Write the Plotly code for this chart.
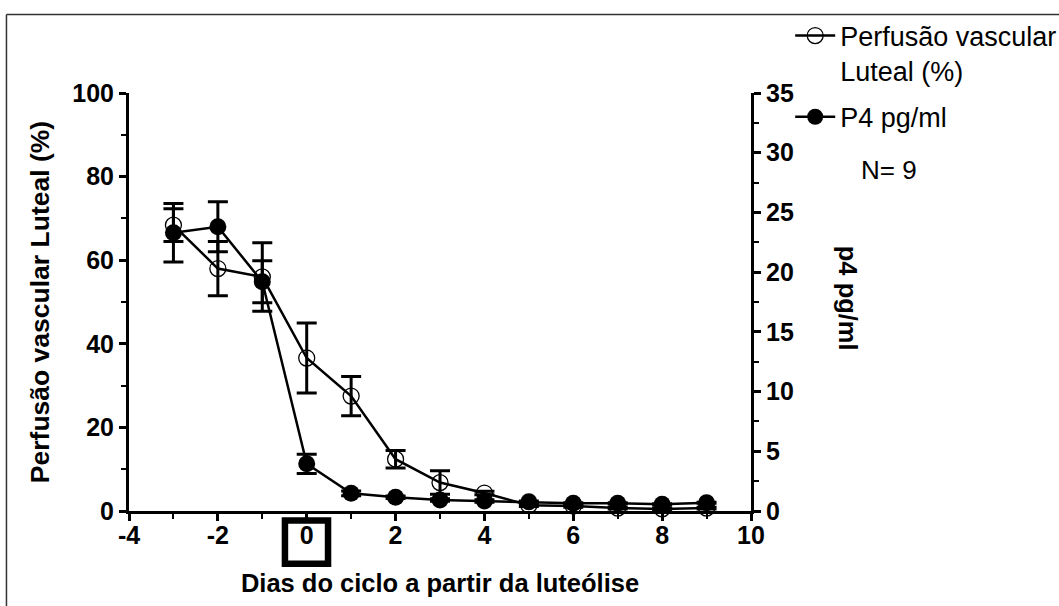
import plotly.graph_objects as go

# ---- data ----
days = [-3, -2, -1, 0, 1, 2, 3, 4, 5, 6, 7, 8, 9]
perfusao = [68.4, 58.0, 56.0, 36.6, 27.5, 12.4, 6.8, 4.3, 1.4, 1.2, 0.7, 0.5, 0.7]
perfusao_err = [3.9, 6.5, 8.2, 8.4, 4.7, 2.1, 2.8, 0.4, 0.3, 0.3, 0.2, 0.2, 0.2]
p4 = [23.3, 23.8, 19.2, 3.95, 1.48, 1.15, 0.92, 0.84, 0.78, 0.64, 0.64, 0.56, 0.69]
p4_err = [2.45, 2.1, 1.76, 0.8, 0.2, 0.1, 0.1, 0.1, 0.05, 0.05, 0.05, 0.05, 0.05]

x_tick_vals = [-4, -2, 0, 2, 4, 6, 8, 10]
x_tick_labels = ["-4", "-2", "0", "2", "4", "6", "8", "10"]
y_tick_vals = [0, 20, 40, 60, 80, 100]
y2_tick_vals = [0, 5, 10, 15, 20, 25, 30, 35]

FONT = "Arial, Liberation Sans, Helvetica, sans-serif"

fig = go.Figure()
fig.add_trace(go.Scatter(
    x=days, y=perfusao, name="Perfusão vascular<br>Luteal (%)",
    mode="lines+markers", yaxis="y", cliponaxis=False, legendgroup="a",
    line=dict(color="black", width=2.5),
    marker=dict(symbol="circle-open", size=16, color="black", line=dict(width=1.3)),
    error_y=dict(type="data", array=perfusao_err, visible=True,
                 color="black", thickness=3, width=10),
))
fig.add_trace(go.Scatter(
    x=days, y=p4, name="P4 pg/ml",
    mode="lines+markers", yaxis="y2", cliponaxis=False, legendgroup="b",
    line=dict(color="black", width=2.5),
    marker=dict(symbol="circle", size=17, color="black"),
    error_y=dict(type="data", array=p4_err, visible=True,
                 color="black", thickness=3, width=10),
))

axis_common = dict(
    showline=True, linewidth=3, linecolor="black",
    ticks="outside", ticklen=7, tickwidth=3, tickcolor="black",
    showgrid=False, zeroline=False, automargin=False,
    tickfont=dict(family=FONT, size=25, color="black", weight="bold"),
)

fig.update_layout(
    width=1059, height=606,
    margin=dict(l=129, r=308, t=93, b=95, autoexpand=False),
    paper_bgcolor="white", plot_bgcolor="white",
    showlegend=True,
    legend=dict(
        x=1.063, y=1.195, xanchor="left", yanchor="top",
        font=dict(family=FONT, size=27, color="black"),
        bgcolor="rgba(0,0,0,0)", itemwidth=40, valign="top",
        tracegroupgap=8,
    ),
    xaxis=dict(
        **axis_common, range=[-4, 10], ticklabelstandoff=-7,
        tickmode="array", tickvals=x_tick_vals, ticktext=x_tick_labels,
        minor=dict(dtick=1, ticklen=5, tickwidth=2, ticks="outside", tickcolor="black"),
        title=dict(text="<b>Dias do ciclo a partir da luteólise</b>",
                   font=dict(family=FONT, size=25.5, color="black"), standoff=27),
    ),
    yaxis=dict(
        **axis_common, range=[0, 100],
        tickmode="array", tickvals=y_tick_vals,
        minor=dict(dtick=10, ticklen=5, tickwidth=2, ticks="outside", tickcolor="black"),
        title=dict(text="<b>Perfusão vascular Luteal (%)</b>",
                   font=dict(family=FONT, size=26.5, color="black"), standoff=16),
    ),
    yaxis2=dict(
        **axis_common, range=[0, 35], overlaying="y", side="right", anchor="x",
        tickmode="array", tickvals=y2_tick_vals,
        minor=dict(dtick=2.5, ticklen=5, tickwidth=2, ticks="outside", tickcolor="black"),
    ),
)

# right axis title, reading top-to-bottom
fig.add_annotation(
    text="<b>p4 pg/ml</b>", xref="paper", yref="paper", x=1.156, y=0.51,
    xanchor="center", yanchor="middle",
    textangle=90, showarrow=False,
    font=dict(family=FONT, size=25.5, color="black"),
)
# N annotation
fig.add_annotation(
    text="N= 9", xref="paper", yref="paper", x=1.222, y=0.815,
    xanchor="center", yanchor="middle",
    showarrow=False, font=dict(family=FONT, size=26, color="black"),
)
# box highlighting day 0
fig.add_shape(type="rect", xref="x", yref="paper",
              x0=-0.49, x1=0.48, y0=-0.023, y1=-0.126,
              line=dict(color="black", width=6.5))
# outer frame (top and left edges)
fig.add_shape(type="line", xref="paper", yref="paper",
              x0=-0.197, x1=1.6, y0=1.188, y1=1.188,
              line=dict(color="#333333", width=1.5))
fig.add_shape(type="line", xref="paper", yref="paper",
              x0=-0.197, x1=-0.197, y0=1.188, y1=-0.4,
              line=dict(color="#333333", width=1.5))

fig.write_html("out.html")
